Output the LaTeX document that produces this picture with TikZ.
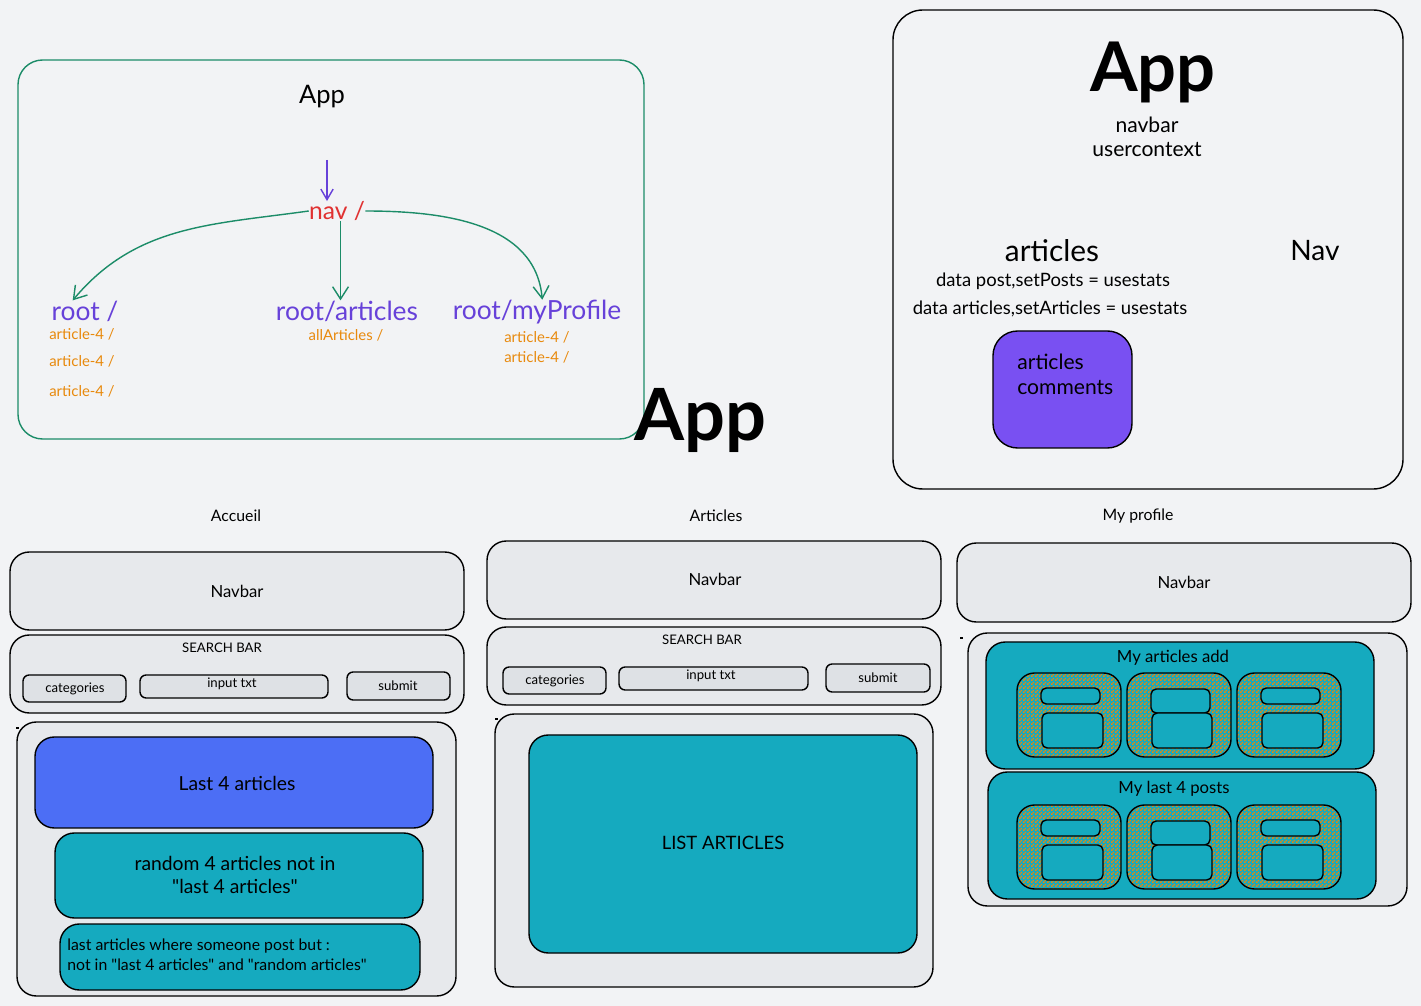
\documentclass[tikz,border=0pt]{standalone}
\usepackage{fontspec}
\setmainfont{Lato}[Ligatures=TeXOff]
\usetikzlibrary{positioning,arrows.meta,patterns}

\definecolor{bgc}{HTML}{F2F3F5}
\definecolor{hatch}{HTML}{E7E9EC}
\definecolor{hatchdk}{HTML}{DEE1E5}
\definecolor{grn}{HTML}{1C8C68}
\definecolor{purp}{HTML}{6741D9}
\definecolor{redc}{HTML}{E03131}
\definecolor{orng}{HTML}{E8890C}
\definecolor{bluec}{HTML}{4C6EF5}
\definecolor{tealc}{HTML}{15AABF}
\definecolor{purpbox}{HTML}{7950F2}

\pgfdeclarepatternformonly{checks}{\pgfqpoint{0pt}{0pt}}{\pgfqpoint{2pt}{2pt}}{\pgfqpoint{2pt}{2pt}}{
    \pgfpathrectangle{\pgfqpoint{0pt}{0pt}}{\pgfqpoint{1pt}{1pt}}
    \pgfpathrectangle{\pgfqpoint{1pt}{1pt}}{\pgfqpoint{1pt}{1pt}}
    \pgfusepath{fill}}

\tikzset{
    lbl/.style={inner sep=0pt,font=\fontsize{#1}{#1}\selectfont},
    olbl/.style={lbl=8.5pt,text=orng,text height=6pt,text depth=1.5pt},
    rlbl/.style={lbl=15pt,text=purp}
}

\begin{document}
\begin{tikzpicture}[x=0.02cm,y=-0.02cm,
        panel/.style={draw,line width=0.8pt,rounded corners=11pt,fill=hatch},
        btn/.style={draw,line width=0.8pt,rounded corners=3.5pt,fill=hatchdk},
        tealbox/.style={draw,line width=0.8pt,rounded corners=11pt,fill=tealc},
        card/.style={draw,line width=0.8pt,rounded corners=10pt,preaction={fill=tealc},pattern=checks,pattern color=orng},
        slot/.style={draw,line width=0.8pt,rounded corners=3pt,fill=tealc},
        garrow/.style={draw=grn,line width=0.8pt,-{Straight Barb[length=7pt,width=9pt]}}]
        \fill[bgc] (0,0) rectangle (1421,1006);
        \useasboundingbox (0,0) rectangle (1421,1006);

        % routes
        \draw[grn,line width=0.8pt,rounded corners=14pt] (18,60) rectangle (644,439);
        \node[lbl=14.5pt] (app1) at (322,97) {App};
        \coordinate (top) at (327,160);
        \node[lbl=14pt,text=redc] (nav) at (337,211) {nav /};
        \node[rlbl] (root) at (85,311) {root /};
        \node[rlbl] (arts) at (347,311) {root/articles};
        \node[rlbl] (prof) at (537,312) {root/myProfile};
        \node[olbl] (r1) at (82,336) {article-4 /};
        \node[olbl] (r2) [below=0.25cm of r1] {article-4 /};
        \node[olbl] (r3) [below=0.33cm of r2] {article-4 /};
        \node[olbl] (a1) at (346,337) {allArticles /};
        \node[olbl] (p1) at (537,339) {article-4 /};
        \node[olbl] (p2) [below=0.12cm of p1] {article-4 /};

        \draw[purp,line width=0.8pt,-{Straight Barb[length=6pt,width=7pt]}] (top) -- (top |- nav.north);
        \draw[garrow] (nav.west) to[out=188,in=50] ([xshift=-7pt]root.north);
        \draw[garrow] ([xshift=2pt]nav.south) -- ([xshift=2pt]nav.south |- arts.north);
        \draw[garrow] (nav.east) to[out=0,in=95] ([xshift=3pt]prof.north);

        \node[lbl=41pt,font=\fontsize{41pt}{41pt}\selectfont\bfseries] (app2) at (700,420) {App};

        % context
        \draw[line width=0.8pt,rounded corners=17pt] (893,10) rectangle (1403,489);
        \node[lbl=39pt,font=\fontsize{39pt}{39pt}\selectfont\bfseries] (app3) at (1153,72) {App};
        \node[lbl=12pt] (nb) at (1147,125) {navbar};
        \node[lbl=12pt] (uc) at (1147,150) {usercontext};
        \node[lbl=17pt] (art) at (1052,251) {articles};
        \node[lbl=16pt] (nv) at (1315,251) {Nav};
        \node[lbl=10.5pt] (d1) at (1053,281) {data post,setPosts = usestats};
        \node[lbl=10.5pt] (d2) at (1050,309) {data articles,setArticles = usestats};
        \draw[line width=0.8pt,rounded corners=14pt,fill=purpbox] (993,331) rectangle (1132,448);
        \node[inner sep=0pt,anchor=north west,align=left,font=\fontsize{12pt}{14.2pt}\selectfont] (ac) at (1017,354) {articles\\comments};

        % Accueil
        \node[lbl=9pt] (t1) at (236,516) {Accueil};
        \draw[panel] (10,552) rectangle (464,630);
        \draw[panel] (10,635) rectangle (464,713);
        \draw[btn] (23,675) rectangle (126,702);
        \draw[btn] (140,675) rectangle (328,698);
        \draw[btn] (347,672) rectangle (450,700);
        \draw[panel] (17,722) rectangle (456,996);
        \draw[line width=0.8pt,rounded corners=11pt,fill=bluec] (35,737) rectangle (433,828);
        \draw[tealbox] (55,833) rectangle (423,918);
        \draw[tealbox] (60,924) rectangle (420,990);
        \node[lbl=9.5pt] (nav1) at (237,591) {Navbar};
        \node[lbl=7.5pt] (sb1) at (222,648) {SEARCH BAR};
        \node[lbl=7.5pt] (cat1) at (75,689) {categories};
        \node[lbl=7.5pt] (in1) at (232,684) {input txt};
        \node[lbl=7.5pt] (sub1) at (398,686) {submit};
        \node[lbl=11pt] (last) at (237,783) {Last 4 articles};
        \node[inner sep=0pt,align=center,font=\fontsize{11pt}{13.6pt}\selectfont] (rand) at (235,875) {random 4 articles not in\\"last 4 articles"};
        \node[inner sep=0pt,anchor=west,align=left,font=\fontsize{9pt}{11.3pt}\selectfont] (rest) at (67,955) {last articles where someone post but :\\not in "last 4 articles" and "random articles"};
        \fill (16,727) rectangle ++(3,2);

        % Articles
        \node[lbl=9pt] (t2) at (716,516) {Articles};
        \draw[panel] (487,541) rectangle (941,619);
        \draw[panel] (487,627) rectangle (941,705);
        \draw[btn] (503,667) rectangle (606,694);
        \draw[btn] (619,667) rectangle (808,690);
        \draw[btn] (826,664) rectangle (930,692);
        \draw[panel] (495,714) rectangle (933,987);
        \draw[tealbox] (529,735) rectangle (917,953);
        \node[lbl=9.5pt] (nav2) at (715,579) {Navbar};
        \node[lbl=7.5pt] (sb2) at (702,640) {SEARCH BAR};
        \node[lbl=7.5pt] (cat2) at (555,681) {categories};
        \node[lbl=7.5pt] (in2) at (711,676) {input txt};
        \node[lbl=7.5pt] (sub2) at (878,678) {submit};
        \node[lbl=10.5pt] (list) at (723,843) {LIST ARTICLES};
        \fill (495,718) rectangle ++(3,2);

        % My profile
        \node[lbl=9pt] (t3) at (1138,516) {My profile};
        \draw[panel] (957,543) rectangle (1411,622);
        \draw[panel] (968,633) rectangle (1407,906);
        \draw[tealbox] (986,642) rectangle (1374,769);
        \draw[tealbox] (988,772) rectangle (1376,899);
        \node[lbl=9.5pt] (nav3) at (1184,582) {Navbar};
        \node[lbl=9.5pt] (add) at (1173,658) {My articles add};
        \node[lbl=9.5pt] (posts) at (1174,789) {My last 4 posts};
        \fill (960,637) rectangle ++(3,2);
        \foreach \cy in {0,132} {
            \foreach \cx in {0,220} {
                \draw[card] (1017+\cx,673+\cy) rectangle ++(104,84);
                \draw[slot] (1041+\cx,688+\cy) rectangle ++(59,16);
                \draw[slot] (1042+\cx,713+\cy) rectangle ++(61,35);
            }
            \draw[card] (1127,673+\cy) rectangle ++(104,84);
            \draw[slot] (1151,689+\cy) rectangle ++(59,24);
            \draw[slot] (1152,713+\cy) rectangle ++(60,35);
        }
    \end{tikzpicture}
\end{document}
